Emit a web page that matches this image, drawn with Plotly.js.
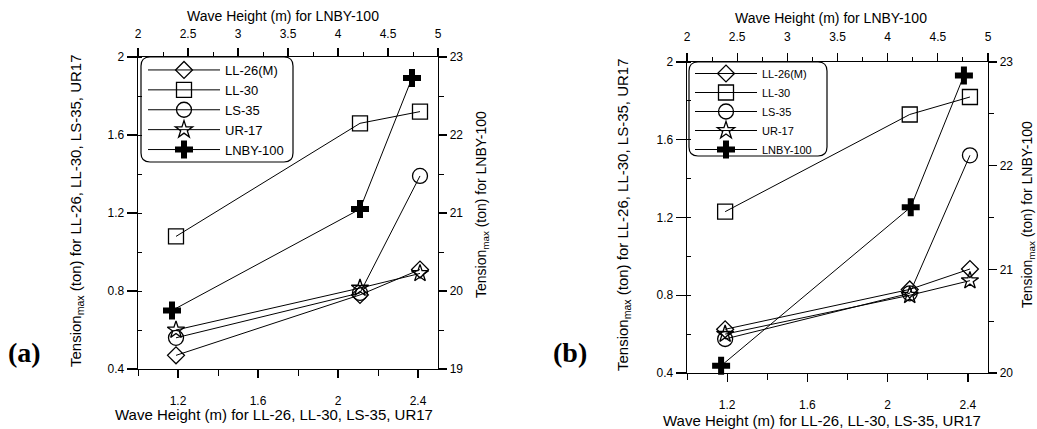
<!DOCTYPE html>
<html>
<head>
<meta charset="utf-8">
<script src="https://cdn.plot.ly/plotly-3.0.1.min.js"></script>
<style>html,body{margin:0;padding:0;background:#fff;}#chart{width:1037px;height:429px;}</style>
</head>
<body>
<div id="chart"></div>
<script>
// ---------------- data ----------------
const seriesNames = ['LL-26(M)', 'LL-30', 'LS-35', 'UR-17', 'LNBY-100'];

// Panel (a)
const waveA      = [1.19, 2.11, 2.41];          // bottom axis, LL-26 / LL-30 / LS-35 / UR17
const ll26A      = [0.47, 0.78, 0.91];
const ll30A      = [1.08, 1.66, 1.72];
const ls35A      = [0.56, 0.79, 1.39];
const ur17A      = [0.60, 0.815, 0.89];
const waveLnbyA  = [2.34, 4.22, 4.74];          // top axis, LNBY-100
const lnbyA      = [19.75, 21.05, 22.73];       // right axis

// Panel (b)
const waveB      = [1.19, 2.11, 2.41];
const ll26B      = [0.625, 0.83, 0.935];
const ll30B      = [1.23, 1.73, 1.82];
const ls35B      = [0.575, 0.81, 1.52];
const ur17B      = [0.60, 0.80, 0.875];
const waveLnbyB  = [2.34, 4.23, 4.76];
const lnbyB      = [20.07, 21.6, 22.87];

// Tick values
const bottomTicks = [1.2, 1.6, 2, 2.4];
const topTicks    = [2, 2.5, 3, 3.5, 4, 4.5, 5];
const leftTicks   = [0.4, 0.8, 1.2, 1.6, 2];
const rightTicksA = [19, 20, 21, 22, 23];
const rightTicksB = [20, 21, 22, 23];

// Text
const topTitle    = 'Wave Height (m) for LNBY-100';
const bottomTitle = 'Wave Height (m) for LL-26, LL-30, LS-35, UR17';
const leftTitle   = 'Tension<sub>max</sub> (ton) for LL-26, LL-30, LS-35, UR17';
const rightTitle  = 'Tension<sub>max</sub> (ton) for LNBY-100';
const panelLabels = ['(a)', '(b)'];

// ---------------- helpers ----------------
const W = 1037, H = 429;
const px = x => x / W;
const py = y => (H - y) / H;
const FONT = 'Arial, "Liberation Sans", sans-serif';

const symbols = ['diamond-open', 'square-open', 'circle-open', 'star-open', 'cross'];
const sizes   = [13, 15, 15, 13, 15];

function trace(x, y, i, xa, ya, leg) {
  return {
    x: x, y: y, name: seriesNames[i], type: 'scatter', mode: 'lines+markers',
    xaxis: xa, yaxis: ya, legend: leg,
    line: {color: '#000', width: 1},
    marker: {
      symbol: symbols[i], size: sizes[i], color: '#000',
      line: {color: '#000', width: i === 4 ? 0 : 1.3}
    },
    cliponaxis: false
  };
}

const data = [
  trace(waveA, ll26A, 0, 'x', 'y', 'legend'),
  trace(waveA, ll30A, 1, 'x', 'y', 'legend'),
  trace(waveA, ls35A, 2, 'x', 'y', 'legend'),
  trace(waveA, ur17A, 3, 'x', 'y', 'legend'),
  trace(waveLnbyA, lnbyA, 4, 'x2', 'y2', 'legend'),
  trace(waveB, ll26B, 0, 'x3', 'y3', 'legend2'),
  trace(waveB, ll30B, 1, 'x3', 'y3', 'legend2'),
  trace(waveB, ls35B, 2, 'x3', 'y3', 'legend2'),
  trace(waveB, ur17B, 3, 'x3', 'y3', 'legend2'),
  trace(waveLnbyB, lnbyB, 4, 'x4', 'y4', 'legend2')
];

function axisBase(extra) {
  return Object.assign({
    showline: true, linecolor: '#000', linewidth: 1.3,
    showgrid: false, zeroline: false,
    ticks: 'outside', ticklen: 8, tickwidth: 1.2, tickcolor: '#000',
    tickfont: {family: FONT, size: 12, color: '#000'},
    fixedrange: true
  }, extra);
}

const domAx = [px(138), px(438)];
const domAy = [py(369), py(57)];
const domBx = [px(687), px(988)];
const domBy = [py(373), py(62)];

function rrect(x0, y0, x1, y1, r) {
  const rx = r, ry = r;
  return `M ${px(x0 + rx)},${py(y0)} L ${px(x1 - rx)},${py(y0)} Q ${px(x1)},${py(y0)} ${px(x1)},${py(y0 + ry)} ` +
         `L ${px(x1)},${py(y1 - ry)} Q ${px(x1)},${py(y1)} ${px(x1 - rx)},${py(y1)} ` +
         `L ${px(x0 + rx)},${py(y1)} Q ${px(x0)},${py(y1)} ${px(x0)},${py(y1 - ry)} ` +
         `L ${px(x0)},${py(y0 + ry)} Q ${px(x0)},${py(y0)} ${px(x0 + rx)},${py(y0)} Z`;
}

function ann(text, x, y, size, angle, extra) {
  return Object.assign({
    text: text, x: px(x), y: py(y), xref: 'paper', yref: 'paper',
    xanchor: 'center', yanchor: 'middle', showarrow: false,
    textangle: angle || 0,
    font: {family: FONT, size: size, color: '#000'}
  }, extra || {});
}

const minorX  = {tickmode: 'linear', tick0: 1, dtick: 0.2, ticks: 'outside', ticklen: 6, tickcolor: '#000', tickwidth: 1};
const minorXT = {tickmode: 'linear', tick0: 2, dtick: 0.25, ticks: 'outside', ticklen: 4, tickcolor: '#000', tickwidth: 1};
const minorY  = {tickmode: 'linear', tick0: 0.4, dtick: 0.2, ticks: 'inside', ticklen: 4, tickcolor: '#000', tickwidth: 1};
const minorYR = {tickmode: 'linear', dtick: 0.5, ticks: 'outside', ticklen: 5, tickcolor: '#000', tickwidth: 1};
const labelFont = {family: '"Liberation Serif", "Times New Roman", serif', size: 28, color: '#000', weight: 'bold'};

const layout = {
  width: W, height: H,
  margin: {l: 0, r: 0, t: 0, b: 0, pad: 0},
  paper_bgcolor: '#fff', plot_bgcolor: '#fff',
  showlegend: true,
  font: {family: FONT, color: '#000'},

  xaxis: axisBase({domain: domAx, anchor: 'y', side: 'bottom', range: [1, 2.5],
    tickmode: 'array', tickvals: bottomTicks, ticklabelstandoff: 12, minor: minorX}),
  xaxis2: axisBase({overlaying: 'x', anchor: 'y', side: 'top', range: [2, 5],
    tickmode: 'array', tickvals: topTicks, ticklabelstandoff: 5, minor: minorXT}),
  yaxis: axisBase({domain: domAy, anchor: 'x', side: 'left', range: [0.4, 2],
    tickmode: 'array', tickvals: leftTicks, ticklen: 10, minor: minorY}),
  yaxis2: axisBase({overlaying: 'y', anchor: 'x', side: 'right', range: [19, 23],
    tickmode: 'array', tickvals: rightTicksA, minor: Object.assign({tick0: 19}, minorYR)}),

  xaxis3: axisBase({domain: domBx, anchor: 'y3', side: 'bottom', range: [1, 2.5],
    tickmode: 'array', tickvals: bottomTicks, ticklabelstandoff: 12, minor: minorX}),
  xaxis4: axisBase({overlaying: 'x3', anchor: 'y3', side: 'top', range: [2, 5],
    tickmode: 'array', tickvals: topTicks, ticklabelstandoff: 7, minor: minorXT}),
  yaxis3: axisBase({domain: domBy, anchor: 'x3', side: 'left', range: [0.4, 2],
    tickmode: 'array', tickvals: leftTicks, ticklen: 10, minor: minorY}),
  yaxis4: axisBase({overlaying: 'y3', anchor: 'x3', side: 'right', range: [20, 23],
    tickmode: 'array', tickvals: rightTicksB, minor: Object.assign({tick0: 20}, minorYR)}),

  legend: {
    x: px(143), y: py(55), xanchor: 'left', yanchor: 'top',
    bgcolor: 'rgba(0,0,0,0)', borderwidth: 0,
    font: {family: FONT, size: 13, color: '#000'},
    itemwidth: 72, tracegroupgap: 0
  },
  legend2: {
    x: px(690), y: py(59), xanchor: 'left', yanchor: 'top',
    bgcolor: 'rgba(0,0,0,0)', borderwidth: 0,
    font: {family: FONT, size: 11, color: '#000'},
    itemwidth: 62, tracegroupgap: 0
  },

  shapes: [
    {type: 'path', xref: 'paper', yref: 'paper', path: rrect(141, 57, 293, 162, 9),
     line: {color: '#000', width: 1.2}},
    {type: 'path', xref: 'paper', yref: 'paper', path: rrect(689, 62, 827, 156, 9),
     line: {color: '#000', width: 1.2}}
  ],

  annotations: [
    ann(topTitle, 283, 16, 14),
    ann(bottomTitle, 274, 414, 15),
    ann(leftTitle, 76, 211, 15, -90),
    ann(rightTitle, 482, 205, 14, -90),
    ann(topTitle, 831, 18, 14),
    ann(bottomTitle, 822, 420, 15),
    ann(leftTitle, 623, 215, 15, -90),
    ann(rightTitle, 1028, 215, 14, -90),
    ann(panelLabels[0], 24, 352, 28, 0, {font: labelFont}),
    ann(panelLabels[1], 570, 352, 28, 0, {font: labelFont})
  ]
};

Plotly.newPlot('chart', data, layout, {displayModeBar: false, staticPlot: true});
</script>
</body>
</html>
